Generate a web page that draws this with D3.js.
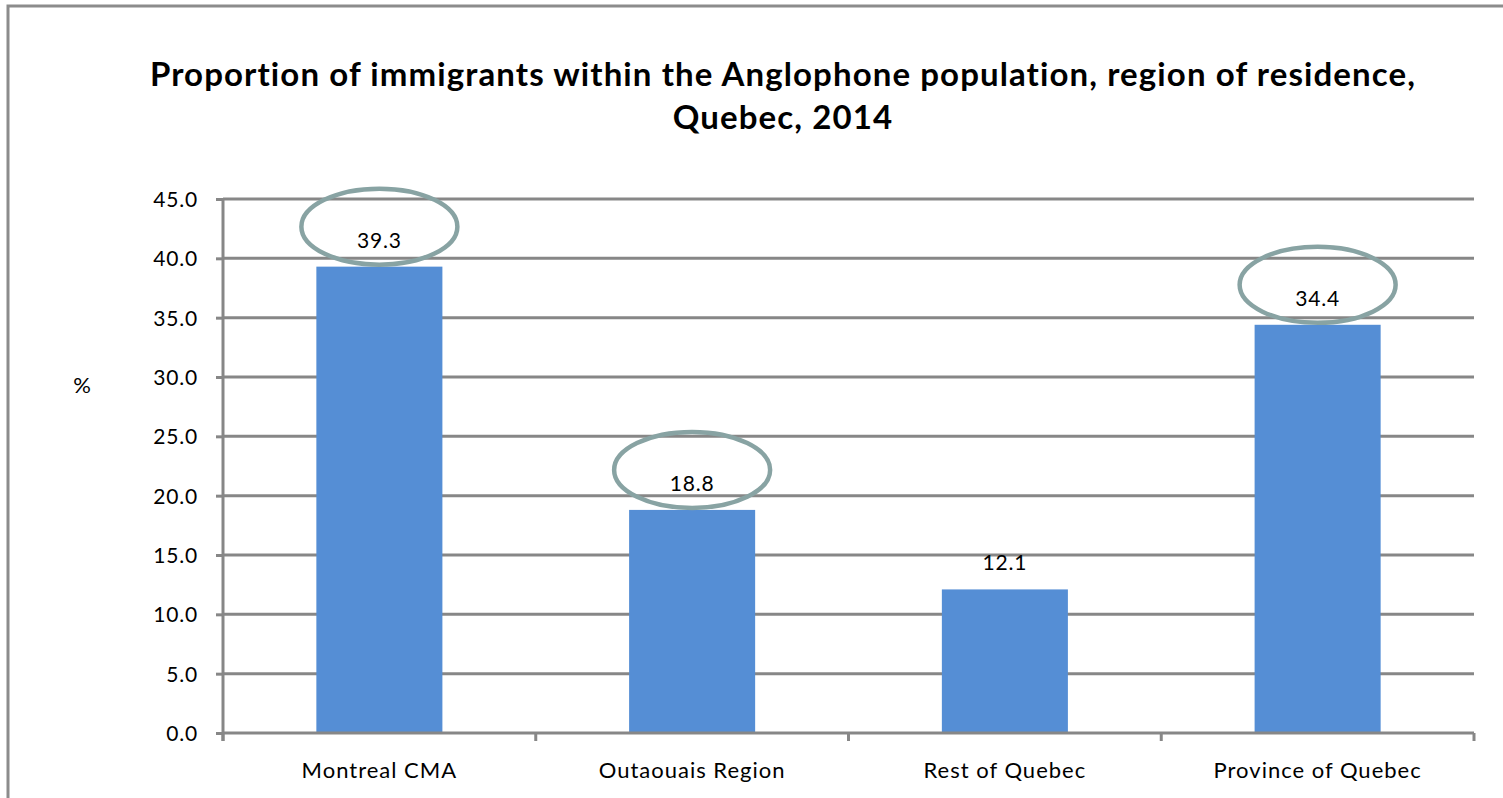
<!DOCTYPE html>
<html><head><meta charset="utf-8">
<script src="https://cdn.jsdelivr.net/npm/d3@7"></script>
<style>html,body{margin:0;padding:0;background:#fff;overflow:hidden}</style>
</head><body>
<svg id="c" width="1503" height="798"></svg>
<script>
const categories = ["Montreal CMA", "Outaouais Region", "Rest of Quebec", "Province of Quebec"];
const values = [39.3, 18.8, 12.1, 34.4];
const highlighted = [true, true, false, true];
const yTicks = [0, 5, 10, 15, 20, 25, 30, 35, 40, 45];
const titleLines = ["Proportion of immigrants within the Anglophone population, region of residence,", "Quebec, 2014"];
const yLabel = "%";

(function () {
const W = 1503, H = 798;
const FONT = "Lato, 'Open Sans', sans-serif";
const GRID = "#878787";
const svg = d3.select("#c");

// outer border
svg.append("rect").attr("x", 8).attr("y", 6).attr("width", W + 20).attr("height", H + 20)
  .attr("fill", "#fff").attr("stroke", "#8c8c8c").attr("stroke-width", 3);

const pL = 223, pR = 1474, pT = 199, pB = 733;
const x = d3.scaleBand().domain(categories).range([pL, pR]).paddingInner(0.597).paddingOuter(0.2985);
const y = d3.scaleLinear().domain([0, 45]).range([pB, pT]);

// title
svg.append("g").selectAll("text").data(titleLines).join("text")
  .attr("x", 783).attr("y", (d, i) => 86 + i * 43)
  .attr("text-anchor", "middle").attr("font-family", FONT).attr("font-weight", "bold")
  .attr("font-size", 33).attr("letter-spacing", 1.1).attr("fill", "#000").text(d => d);

// gridlines
svg.append("g").selectAll("line").data(yTicks.filter(t => t > 0)).join("line")
  .attr("x1", pL).attr("x2", pR).attr("y1", d => y(d)).attr("y2", d => y(d))
  .attr("stroke", GRID).attr("stroke-width", 3);

// y axis
const yAxis = svg.append("g").attr("transform", `translate(${pL},0)`)
  .call(d3.axisLeft(y).tickValues(yTicks).tickFormat(d3.format(".1f")).tickSize(7).tickPadding(18));
yAxis.select(".domain").attr("stroke", GRID).attr("stroke-width", 3).attr("d", `M0,${pT}V${pB + 8}`);
yAxis.selectAll(".tick line").attr("stroke", GRID).attr("stroke-width", 3);
yAxis.selectAll(".tick text").attr("font-family", FONT).attr("font-size", 21).attr("letter-spacing", 0.8)
  .attr("fill", "#000").attr("dy", "0.35em");

// bars
svg.append("g").selectAll("rect").data(values).join("rect")
  .attr("x", (d, i) => x(categories[i])).attr("width", x.bandwidth())
  .attr("y", d => y(d)).attr("height", d => y(0) - y(d)).attr("fill", "#558ed5");

// x axis
const bounds = categories.map((_, i) => pL + i * x.step());
bounds.push(pR);
svg.append("line").attr("x1", pL).attr("x2", pR).attr("y1", y(0)).attr("y2", y(0))
  .attr("stroke", GRID).attr("stroke-width", 3);
svg.append("g").selectAll("line").data(bounds).join("line")
  .attr("x1", d => d).attr("x2", d => d).attr("y1", y(0)).attr("y2", y(0) + 8)
  .attr("stroke", GRID).attr("stroke-width", 3);
svg.append("g").selectAll("text").data(categories).join("text")
  .attr("x", d => x(d) + x.bandwidth() / 2).attr("y", 778)
  .attr("text-anchor", "middle").attr("font-family", FONT).attr("font-size", 22).attr("letter-spacing", 1)
  .attr("fill", "#000").text(d => d);

// y label
svg.append("text").attr("x", 82).attr("y", 393).attr("text-anchor", "middle")
  .attr("font-family", FONT).attr("font-size", 22).attr("fill", "#000").text(yLabel);

// data labels
svg.append("g").selectAll("text").data(values).join("text")
  .attr("x", (d, i) => x(categories[i]) + x.bandwidth() / 2).attr("y", d => y(d) - 19)
  .attr("text-anchor", "middle").attr("font-family", FONT).attr("font-size", 21).attr("letter-spacing", 0.8)
  .attr("fill", "#000").text(d => d.toFixed(1));

// highlight ellipses
svg.append("g").selectAll("ellipse").data(values.map((v, i) => ({v, i})).filter(d => highlighted[d.i])).join("ellipse")
  .attr("cx", d => x(categories[d.i]) + x.bandwidth() / 2)
  .attr("cy", d => y(d.v) - 40).attr("rx", 78).attr("ry", 38)
  .attr("fill", "none").attr("stroke", "#88a3a3").attr("stroke-width", 4.5);
})();
</script>
</body></html>
